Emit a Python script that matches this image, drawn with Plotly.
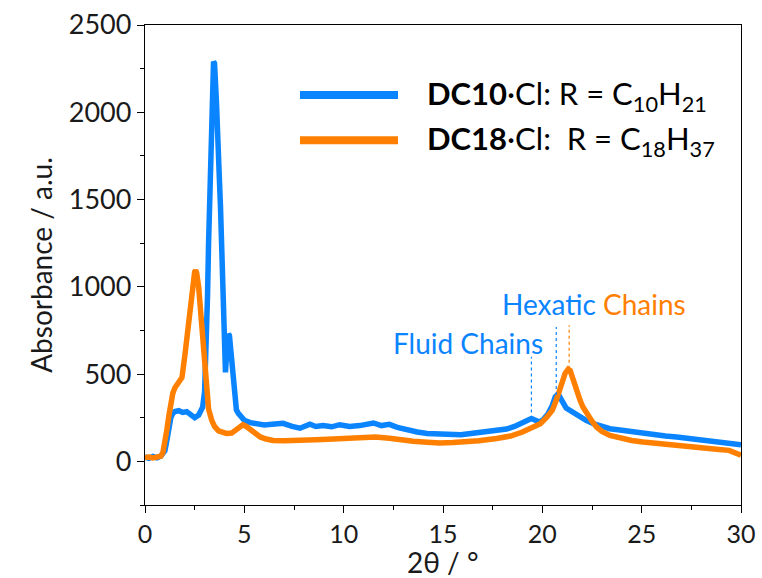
import plotly.graph_objects as go

# 2-theta scan, DC10·Cl
dc10_2theta = [0, 0.2, 0.4, 0.6, 0.8, 1.0, 1.1, 1.2, 1.3, 1.4, 1.5, 1.7, 1.9, 2.1, 2.3, 2.5,
               2.7, 2.9, 3.0, 3.1, 3.15, 3.2, 3.25, 3.3, 3.35, 3.4, 3.45, 3.5, 3.55, 3.6, 3.65,
               3.7, 3.75, 3.8, 3.85, 3.9, 3.95, 4.0, 4.05, 4.1, 4.15, 4.2, 4.25, 4.3, 4.35, 4.4,
               4.5, 4.6, 4.7, 4.8, 5.0, 5.3, 5.6, 6.0, 6.4, 6.95, 7.4, 7.8, 8.3, 8.6, 8.96, 9.4,
               9.8, 10.3, 10.8, 11.2, 11.5, 11.9, 12.3, 12.7, 13.2, 13.7, 14.2, 14.8, 15.35,
               15.9, 16.4, 16.86, 17.3, 17.8, 18.2, 18.6, 19.0, 19.25, 19.45, 19.65, 19.85,
               20.05, 20.3, 20.5, 20.65, 20.8, 20.9, 21.05, 21.2, 21.4, 21.55, 21.8, 22.2, 22.6,
               23.0, 23.4, 24.0, 24.5, 25.07, 25.6, 26.2, 26.76, 27.3, 27.8, 28.4, 28.9, 29.4,
               29.9, 30.0]
dc10_abs = [25, 18, 28, 20, 30, 60, 120, 200, 250, 275, 285, 290, 280, 285, 265, 250,
            265, 310, 400, 700, 960, 1250, 1500, 1850, 2100, 2230, 2290, 2280, 2200, 2050, 1900,
            1800, 1600, 1460, 1200, 1000, 750, 560, 510, 600, 700, 730, 720, 650, 560, 480,
            360, 295, 275, 260, 235, 222, 215, 208, 212, 218, 200, 190, 213, 200, 206, 198,
            210, 200, 205, 210, 220, 205, 212, 195, 178, 168, 160, 158, 149,
            152, 160, 168, 172, 178, 185, 200, 220, 235, 245, 235, 225,
            240, 275, 320, 370, 385, 370, 335, 305, 290, 283, 265, 235, 215,
            200, 187, 178, 170, 159, 152, 145, 140, 132, 127, 120, 113, 107,
            100, 95]

# 2-theta scan, DC18·Cl
dc18_2theta = [0, 0.2, 0.4, 0.6, 0.8, 0.9, 1.0, 1.1, 1.2, 1.3, 1.4, 1.5, 1.6, 1.7, 1.86, 2.0,
               2.16, 2.3, 2.4, 2.5, 2.55, 2.6, 2.7, 2.8, 2.9, 3.0, 3.1, 3.2, 3.36, 3.5, 3.7,
               3.86, 4.1, 4.36, 4.6, 4.8, 4.93, 5.1, 5.3, 5.53, 5.8, 6.1, 6.45, 7.0, 7.5, 8.1,
               8.6, 9.2, 9.8, 10.5, 11.1, 11.6, 12.3, 12.9, 13.5, 14.2, 14.85, 15.5, 16.0, 16.8,
               17.7, 18.4, 19.0, 19.5, 19.9, 20.2, 20.5, 20.7, 20.85, 21.0, 21.15, 21.3, 21.4,
               21.55, 21.7, 21.9, 22.05, 22.23, 22.5, 22.73, 23.0, 23.4, 24.0, 24.5, 25.07,
               25.9, 26.76, 27.6, 28.4, 28.9, 29.4, 29.7, 30.0]
dc18_abs = [22, 25, 20, 24, 30, 50, 100, 180, 260, 330, 390, 420, 440, 455, 480, 600,
            770, 930, 1030, 1085, 1095, 1080, 1000, 860, 700, 540, 390, 300, 235, 200, 175,
            168, 160, 162, 180, 200, 210, 200, 180, 160, 140, 128, 120, 118, 122, 120,
            124, 127, 130, 138, 143, 140, 132, 122, 115, 110, 105, 108, 111, 118,
            131, 145, 168, 190, 216, 250, 292, 350, 400, 460, 505, 528, 520,
            470, 410, 350, 310, 275, 230, 197, 172, 149, 130, 120, 111,
            100, 92, 82, 73, 68, 63, 50, 35]

# Chain-packing reflections: (2theta, bottom of marker line, top of marker line)
fluid_peak = (19.45, 280, 600)
hexatic_peak = (20.7, 380, 770)
dc18_chain_peak = (21.35, 530, 780)

BLUE = "#0A84FF"
ORANGE = "#FF8000"
FONT = "Lato, 'Open Sans', sans-serif"
TEXT = "#1a1a1a"

fig = go.Figure()
fig.add_trace(go.Scatter(x=dc10_2theta, y=dc10_abs, mode="lines",
                         line=dict(color=BLUE, width=5.5), showlegend=False))
fig.add_trace(go.Scatter(x=dc18_2theta, y=dc18_abs, mode="lines",
                         line=dict(color=ORANGE, width=5.5), showlegend=False))

# dotted guide lines above the chain reflections
for (px, y0, y1), col in [(fluid_peak, BLUE), (hexatic_peak, BLUE), (dc18_chain_peak, ORANGE)]:
    fig.add_shape(type="line", xref="x", yref="y", x0=px, x1=px, y0=y0, y1=y1,
                  line=dict(color=col, width=1.2, dash="dot"))

# hand-drawn legend
legend_rows = [
    (BLUE, "<b>DC10</b>·Cl: R = C<sub>10</sub>H<sub>21</sub>", 0.854),
    (ORANGE, "<b>DC18</b>·Cl:\u00a0 R = C<sub>18</sub>H<sub>37</sub>", 0.760),
]
for col, label, yp in legend_rows:
    fig.add_shape(type="line", xref="paper", yref="paper", x0=0.26, x1=0.4245, y0=yp, y1=yp,
                  line=dict(color=col, width=8))
    fig.add_annotation(xref="paper", yref="paper", x=0.469, y=yp, text=label,
                       showarrow=False, xanchor="left", yanchor="middle",
                       font=dict(family=FONT, size=31, color="black"))

fig.add_annotation(x=16.25, y=680, text="Fluid Chains", showarrow=False,
                   font=dict(family=FONT, size=28, color=BLUE))
fig.add_annotation(x=22.6, y=900,
                   text=f"<span style='color:{BLUE}'>Hexatic</span> "
                        f"<span style='color:{ORANGE}'>Chains</span>",
                   showarrow=False, font=dict(family=FONT, size=28, color=BLUE))

# x-axis title, set just under the tick labels
fig.add_annotation(xref="paper", yref="paper", x=0.5, y=-0.119, text="2θ / °",
                   showarrow=False, xanchor="center", yanchor="middle", borderpad=0,
                   font=dict(family=FONT, size=28, color=TEXT))

axis_common = dict(showline=True, linecolor="black", linewidth=1.3, mirror=True,
                   ticks="outside", ticklen=7, tickwidth=1.3, tickcolor="black",
                   showgrid=False, zeroline=False, automargin=False)

fig.update_xaxes(range=[0, 30], dtick=5, tick0=0,
                 tickfont=dict(family=FONT, size=25, color=TEXT),
                 minor=dict(dtick=2.5, ticklen=4, tickcolor="black", ticks="outside"),
                 **axis_common)
fig.update_yaxes(range=[-250, 2500], dtick=500, tick0=0,
                 tickfont=dict(family=FONT, size=27, color=TEXT),
                 minor=dict(dtick=250, ticklen=4, tickcolor="black", ticks="outside"),
                 title=dict(text="Absorbance / a.u.", font=dict(family=FONT, size=28, color=TEXT),
                            standoff=8),
                 **axis_common)

fig.update_layout(width=762, height=578, margin=dict(l=145, r=21, t=25, b=73),
                  plot_bgcolor="white", paper_bgcolor="white", showlegend=False)

fig.write_html("out.html")
